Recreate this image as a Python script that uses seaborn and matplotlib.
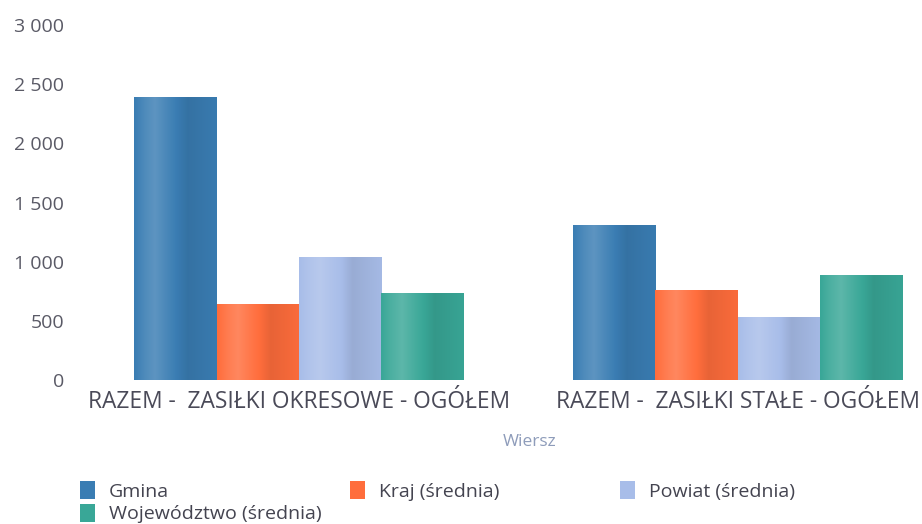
import numpy as np
import pandas as pd
import matplotlib
matplotlib.use("Agg")
import matplotlib.pyplot as plt
import seaborn as sns
from matplotlib.colors import to_rgb
from matplotlib.patches import Patch
from matplotlib.ticker import FuncFormatter

# data
categories = ["RAZEM -  ZASIŁKI OKRESOWE - OGÓŁEM", "RAZEM -  ZASIŁKI STAŁE - OGÓŁEM"]
series = ["Gmina", "Kraj (średnia)", "Powiat (średnia)", "Województwo (średnia)"]
gmina = [2390, 1310]
kraj = [642, 763]
powiat = [1040, 535]
wojewodztwo = [735, 885]
colors = ["#3a7db3", "#ff6d3c", "#a8bde9", "#39a797"]

df = pd.DataFrame({
    "Wiersz": categories * 4,
    "series": [s for s in series for _ in categories],
    "value": gmina + kraj + powiat + wojewodztwo,
})

sns.set_theme(style="white")
plt.rcParams["font.family"] = ["Open Sans", "DejaVu Sans"]

fig = plt.figure(figsize=(9.22, 5.24), dpi=100)
ax = fig.add_axes([75 / 922, 144 / 524, 847 / 922, 355 / 524])

sns.barplot(data=df, x="Wiersz", y="value", hue="series", hue_order=series,
            palette=colors, width=0.75, gap=0, saturation=1, legend=False,
            linewidth=0, ax=ax)


def shade(rgb, t):
    # soft cylinder-like shading across the bar width
    prof = np.interp(t, [0, 0.12, 0.25, 0.45, 0.65, 0.85, 1.0],
                     [0.0, 0.1, 0.18, 0.04, -0.09, -0.05, -0.02])
    rgb = np.array(rgb)
    out = np.where(prof[:, None] > 0,
                   rgb + (1 - rgb) * prof[:, None],
                   rgb * (1 + prof[:, None]))
    return np.clip(out, 0, 1)


for bar in list(ax.patches):
    x, y = bar.get_x(), bar.get_y()
    w, h = bar.get_width(), bar.get_height()
    if h <= 0:
        continue
    t = np.linspace(0, 1, 80)
    img = shade(to_rgb(bar.get_facecolor()), t)[None, :, :]
    im = ax.imshow(img, extent=[x, x + w, y, y + h], aspect="auto",
                   interpolation="bilinear", zorder=bar.get_zorder() + 0.1)
    im.set_clip_path(bar)

ax.set_xlim(-0.51, 1.42)
ax.set_ylim(0, 3000)
ax.set_yticks([0, 500, 1000, 1500, 2000, 2500, 3000])
ax.yaxis.set_major_formatter(FuncFormatter(lambda v, p: f"{int(v):,}".replace(",", " ")))
sns.despine(ax=ax, left=True, bottom=True)
ax.grid(False)
ax.tick_params(axis="y", length=0, pad=8, labelsize=14, labelcolor="#5a5a66")
ax.tick_params(axis="x", length=0, pad=7, labelsize=16.4, labelcolor="#4a4a58")
ax.set_xlabel("")
ax.set_ylabel("")

fig.text(530 / 922, 82 / 524, "Wiersz", ha="center", va="center",
         fontsize=12.5, color="#8e9cba")

handles = [Patch(facecolor=c, edgecolor="none") for c in colors]
leg_kw = dict(loc="upper left", frameon=False, borderpad=0, borderaxespad=0,
              fontsize=14, handlelength=0.75, handleheight=1.05,
              handletextpad=0.75, labelspacing=0.15, labelcolor="#444450")
leg1 = fig.legend([handles[0], handles[3]], [series[0], series[3]],
                  bbox_to_anchor=(80 / 922, 43 / 524), **leg_kw)
leg2 = fig.legend([handles[1]], [series[1]],
                  bbox_to_anchor=(350 / 922, 43 / 524), **leg_kw)
leg3 = fig.legend([handles[2]], [series[2]],
                  bbox_to_anchor=(620 / 922, 43 / 524), **leg_kw)

fig.savefig("out.png", dpi=100)
